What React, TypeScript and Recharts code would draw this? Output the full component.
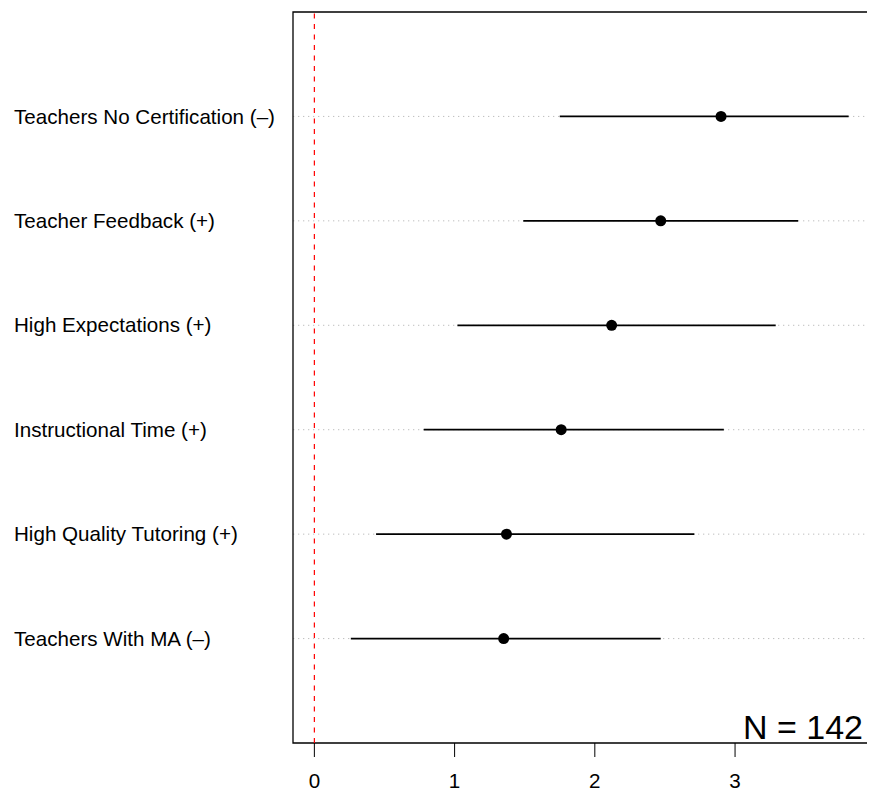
import React from "react";
import {
  ScatterChart,
  Scatter,
  XAxis,
  YAxis,
  CartesianGrid,
  ErrorBar,
  ReferenceLine,
  ReferenceArea,
} from "recharts";

const labels = [
  "Teachers No Certification (–)",
  "Teacher Feedback (+)",
  "High Expectations (+)",
  "Instructional Time (+)",
  "High Quality Tutoring (+)",
  "Teachers With MA (–)",
];
const estimates = [2.9, 2.47, 2.12, 1.76, 1.37, 1.35];
const lower = [1.75, 1.49, 1.02, 0.78, 0.44, 0.26];
const upper = [3.81, 3.45, 3.29, 2.92, 2.71, 2.47];
const xTicks = [0, 1, 2, 3];
const sampleNote = "N = 142";

const nRows = labels.length;
const rows = labels.map((label, i) => ({
  label,
  pos: nRows - i,
  est: estimates[i],
  err: [estimates[i] - lower[i], upper[i] - estimates[i]],
}));
const yTicks = rows.map((r) => r.pos).sort((a, b) => a - b);
const labelByPos: Record<number, string> = {};
rows.forEach((r) => (labelByPos[r.pos] = r.label));

const xMin = Math.min(0, ...lower);
const xMax = Math.max(...upper);
const xPad = 0.04 * (xMax - xMin);
const xDomain: [number, number] = [xMin - xPad, xMax + xPad];
const yDomain: [number, number] = [0, nRows + 1];

const FONT = "'Liberation Sans', Arial, Helvetica, sans-serif";

const YTick = (props: any) => {
  const { y, payload } = props;
  return (
    <text
      x={6}
      y={y}
      dy="0.35em"
      textAnchor="start"
      fontFamily={FONT}
      fontSize={20.6}
      fill="#000"
    >
      {labelByPos[payload.value]}
    </text>
  );
};

const Dot = (props: any) => (
  <circle cx={props.cx} cy={props.cy} r={5.5} fill="#000" />
);

const NoteLabel = (props: any) => {
  const vb = props.viewBox || {};
  return (
    <text
      x={vb.x + vb.width - 7}
      y={vb.y + vb.height - 4}
      textAnchor="end"
      fontFamily={FONT}
      fontSize={34}
      fill="#000"
    >
      {sampleNote}
    </text>
  );
};

export default function App() {
  return (
    <div style={{ width: 867, height: 789, background: "#fff" }}>
      <ScatterChart
        width={867}
        height={789}
        margin={{ top: 4, right: 5, left: 0, bottom: 0 }}
      >
        <CartesianGrid
          vertical={false}
          horizontal={true}
          stroke="#bebebe"
          strokeDasharray="1.3 3.7"
          horizontalValues={yTicks}
        />
        <XAxis
          type="number"
          dataKey="est"
          domain={xDomain}
          ticks={xTicks}
          allowDataOverflow
          axisLine={false}
          tickSize={14}
          tickMargin={16}
          height={54}
          tickLine={{ stroke: "#000" }}
          tick={{ fill: "#000", fontSize: 20.6, fontFamily: FONT }}
        />
        <YAxis
          type="number"
          dataKey="pos"
          domain={yDomain}
          ticks={yTicks}
          allowDataOverflow
          axisLine={false}
          tickLine={false}
          width={285}
          tick={<YTick />}
        />
        <ReferenceLine
          x={0}
          stroke="#ff0000"
          strokeWidth={1.2}
          strokeDasharray="5 5.5"
        />
        <Scatter
          data={rows}
          dataKey="est"
          isAnimationActive={false}
          shape={<Dot />}
        >
          <ErrorBar
            dataKey="err"
            direction="x"
            width={0}
            stroke="#000"
            strokeWidth={1.7}
            isAnimationActive={false}
          />
        </Scatter>
        <ReferenceArea
          x1={xDomain[0]}
          x2={xDomain[1]}
          y1={yDomain[0]}
          y2={yDomain[1]}
          fill="none"
          fillOpacity={0}
          stroke="#000"
          strokeWidth={1.3}
          label={<NoteLabel />}
        />
      </ScatterChart>
    </div>
  );
}
